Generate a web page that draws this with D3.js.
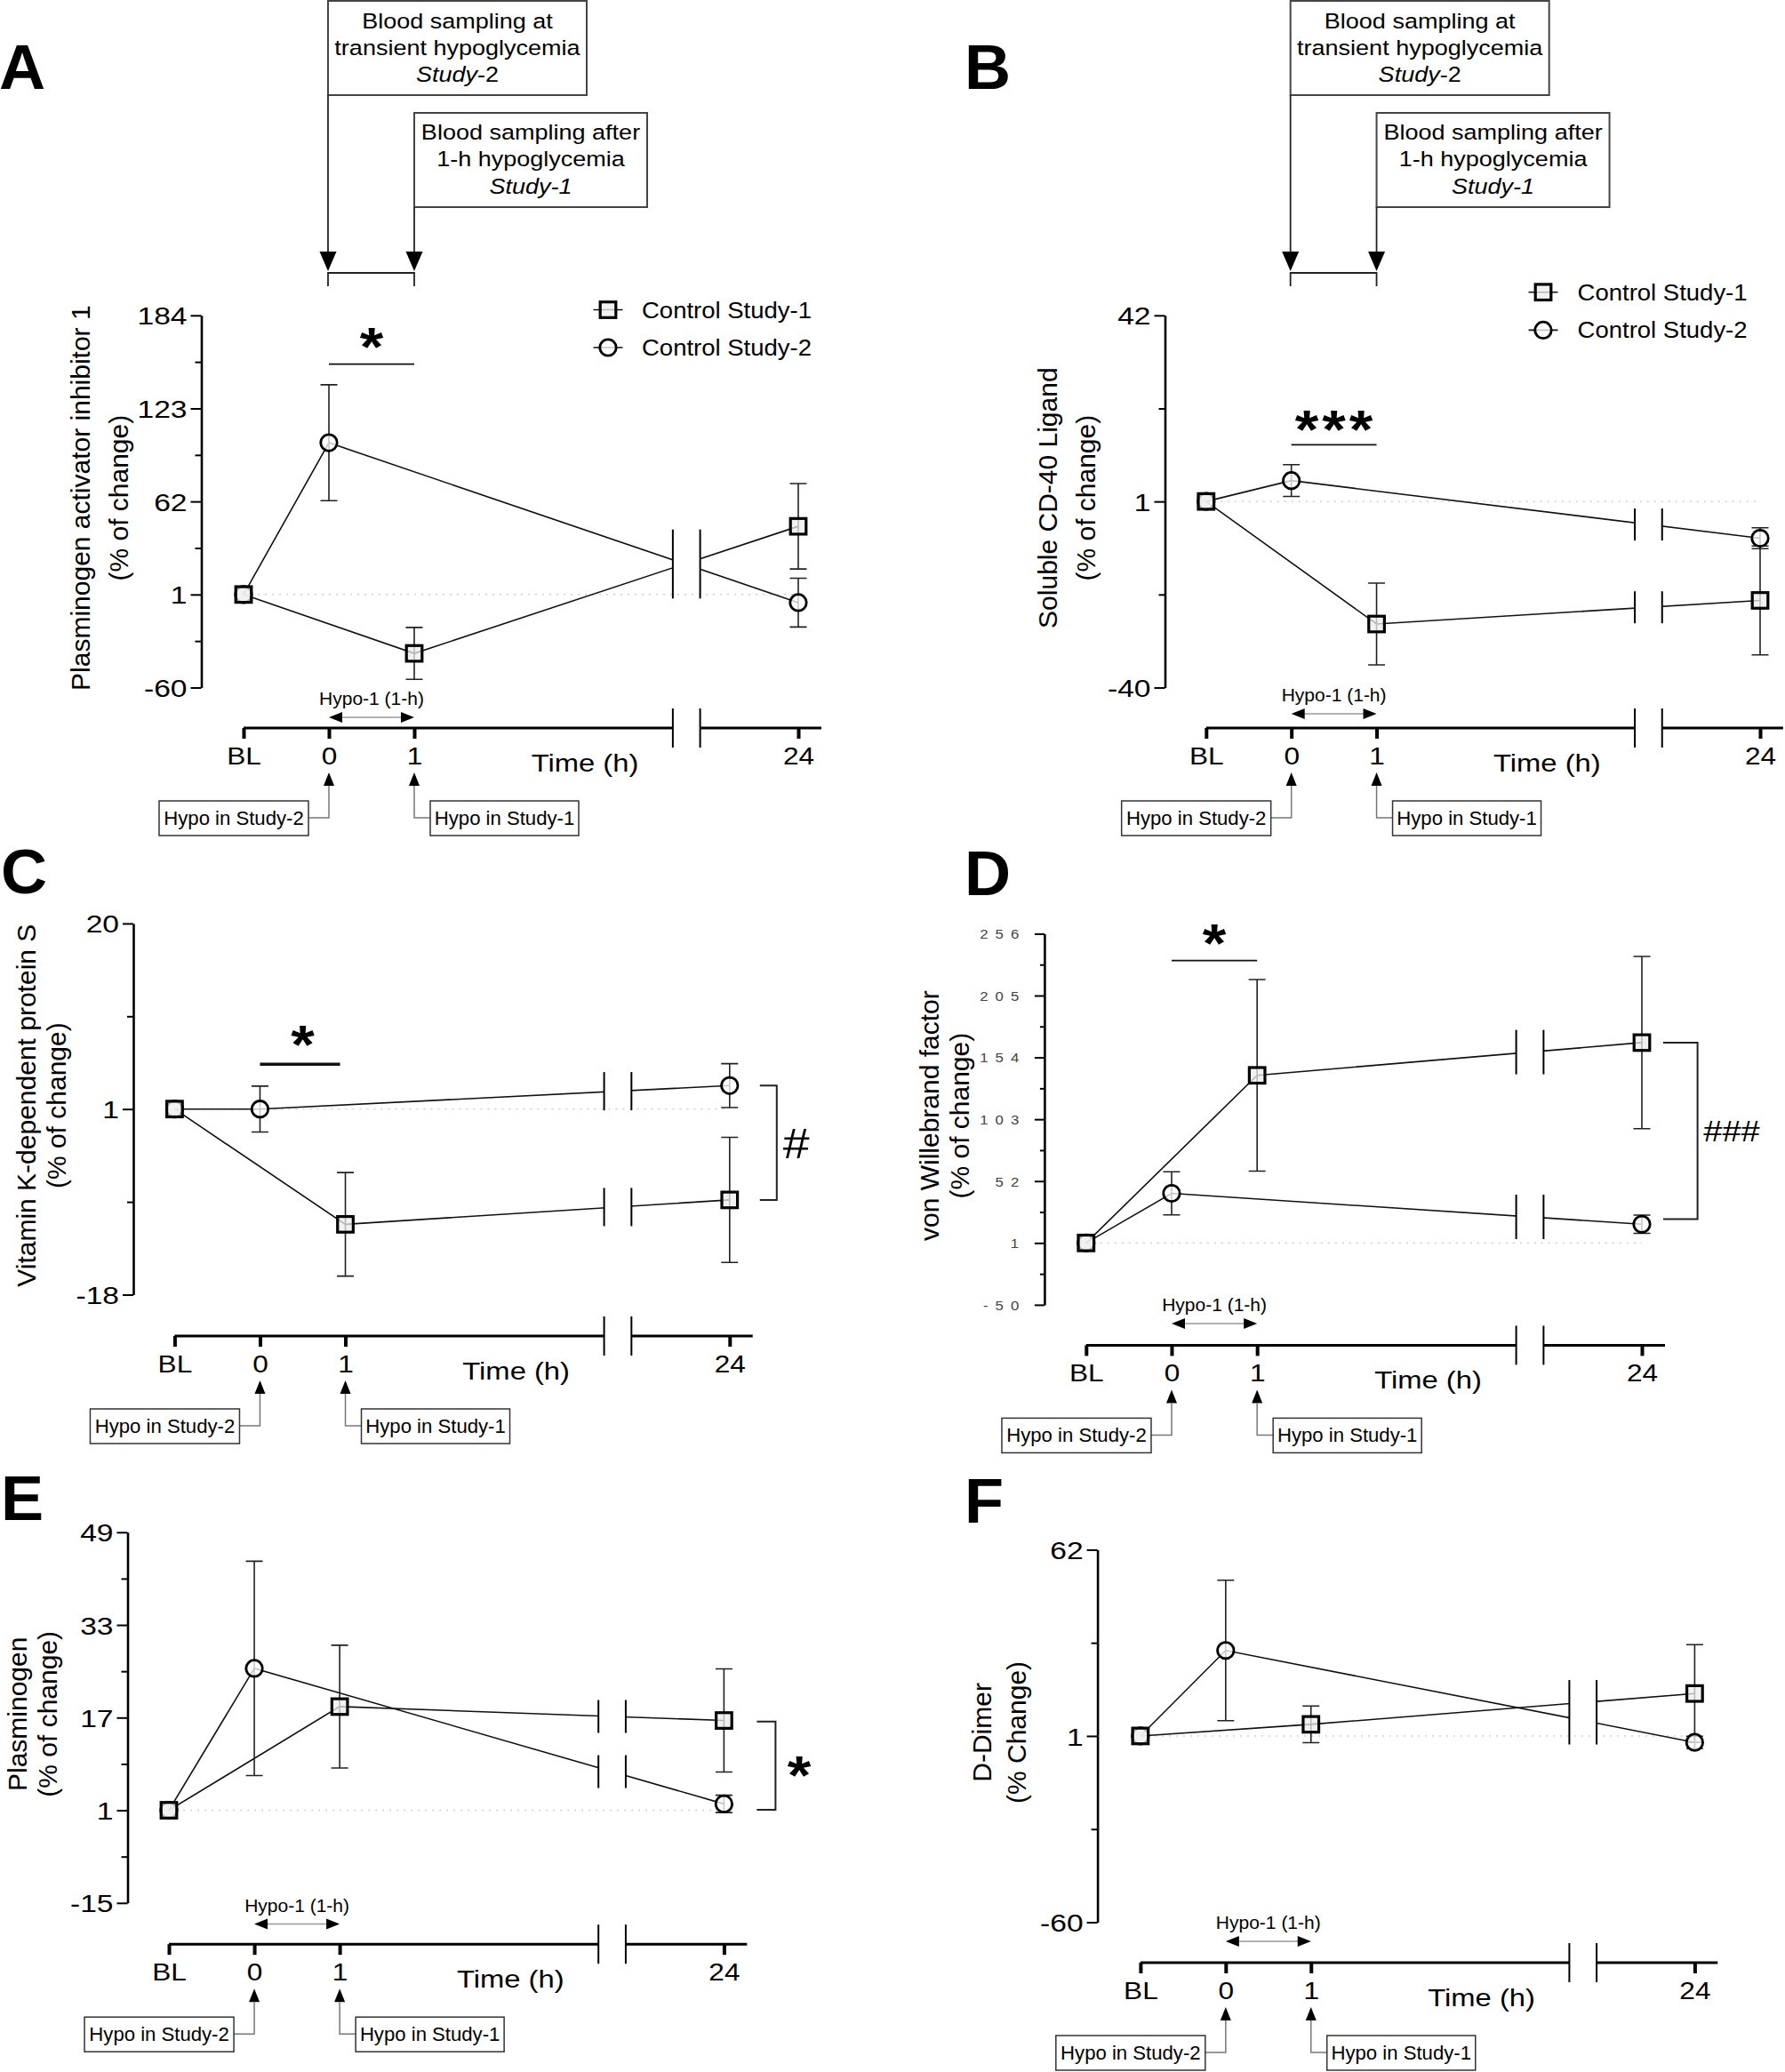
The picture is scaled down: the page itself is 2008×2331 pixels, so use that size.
<!DOCTYPE html>
<html><head><meta charset="utf-8">
<script src="https://cdn.jsdelivr.net/npm/d3@7"></script>
<style>
html,body{margin:0;padding:0;background:#fff;}
svg{display:block;}
text{font-family:"Liberation Sans",Arial,Helvetica,sans-serif;}
</style></head><body>
<svg id="fig" width="2008" height="2331"></svg>
<script>
// ---------------- data ----------------
const timeLabels = ["BL", "0", "1", "24"];
const timeIndex = [0, 1, 2, 6.5];
const study1Times = ["BL", "1", "24"];
const study2Times = ["BL", "0", "24"];
const seriesNames = ["Control Study-1", "Control Study-2"];

const ticksA = [-60, 1, 62, 123, 184];
const paiStudy1 = [1, -37.6, 45.7];
const paiStudy1Sem = [0, 17, 28];
const paiStudy2 = [1, 100.5, -4.3];
const paiStudy2Sem = [0, 38, 16];

const ticksB = [-40, 1, 42];
const cd40Study1 = [1, -26, -20.8];
const cd40Study1Sem = [0, 9, 12];
const cd40Study2 = [1, 5.6, -7.1];
const cd40Study2Sem = [0, 3.5, 2.3];

const ticksC = [-18, 1, 20];
const protSStudy1 = [1, -10.8, -8.3];
const protSStudy1Sem = [0, 5.3, 6.4];
const protSStudy2 = [1, 1, 3.4];
const protSStudy2Sem = [0, 2.35, 2.25];

const ticksD = [-50, 1, 52, 103, 154, 205, 256];
const vwfStudy1 = [1, 139.2, 166.2];
const vwfStudy1Sem = [0, 79, 71];
const vwfStudy2 = [1, 41.9, 16.4];
const vwfStudy2Sem = [0, 17.8, 7.5];

const ticksE = [-15, 1, 17, 33, 49];
const plgStudy1 = [1, 18.9, 16.5];
const plgStudy1Sem = [0, 10.6, 8.9];
const plgStudy2 = [1, 25.5, 2.1];
const plgStudy2Sem = [0, 18.5, 1.5];

const ticksF = [-60, 1, 62];
const ddStudy1 = [1, 4.8, 14.9];
const ddStudy1Sem = [0, 6, 16];
const ddStudy2 = [1, 29, -1.1];
const ddStudy2Sem = [0, 23, 2];

// significance levels (y value of the bar) and bracket extents
const sigBarA = 152, sigBarB = 13.5, sigBarC = 5.6, sigBarD = 233.9;
const bracketC = [3.4, -8.3];
const bracketD = [166.2, 20.6];
const bracketE = [16.3, 1.1];

// ---------------- layout ----------------
const S = 1.17;            // horizontal stretch of the original lettering
const BREAK = [5.03, 5.35];
const AXIS_END = 6.77;

const panels = [
  {letter:"A", lx:-1, ly:100, yAxisX:226.5, xBL:274, x24:898, yTop:354.8, yBot:773.5, axisY:819,
   ticks:ticksA, s1:paiStudy1, s1e:paiStudy1Sem, s2:paiStudy2, s2e:paiStudy2Sem,
   yLabel:["Plasminogen activator inhibitor 1","(% of change)"], yLabelX:[92.5,136],
   hypoArrow:-12, legend:{mx:684, tx:722, ys:[348.5,391]}, sampling:true,
   sig:{level:sigBarA, n:1, off:31, thick:false}, markHalf:33},
  {letter:"B", lx:1085, ly:100, yAxisX:1310.5, xBL:1356.8, x24:1980, yTop:354.8, yBot:773.5, axisY:819,
   ticks:ticksB, s1:cd40Study1, s1e:cd40Study1Sem, s2:cd40Study2, s2e:cd40Study2Sem,
   yLabel:["Soluble CD-40 Ligand","(% of change)"], yLabelX:[1181,1224],
   hypoArrow:-16, legend:{mx:1736, tx:1774.6, ys:[328.7,371.4]}, sampling:true,
   sig:{level:sigBarB, n:3, off:28, thick:false}, markHalf:18},
  {letter:"C", lx:1, ly:1005, yAxisX:150, xBL:196.4, x24:820.8, yTop:1038.9, yBot:1456.5, axisY:1503,
   ticks:ticksC, s1:protSStudy1, s1e:protSStudy1Sem, s2:protSStudy2, s2e:protSStudy2Sem,
   yLabel:["Vitamin K-dependent protein S","(% of change)"], yLabelX:[32,66],
   hypoArrow:null, sig:{level:sigBarC, n:1, off:33, thick:true},
   bracket:{vals:bracketC, x0:34, x1:53, label:"#", lx:75, size:48, weight:"normal", base:17}, markHalf:21.5},
  {letter:"D", lx:1085, ly:1007, yAxisX:1174.9, xBL:1221.8, x24:1847, yTop:1050.4, yBot:1467.9, axisY:1513.4,
   ticks:ticksD, spaced:true, s1:vwfStudy1, s1e:vwfStudy1Sem, s2:vwfStudy2, s2e:vwfStudy2Sem,
   yLabel:["von Willebrand factor","(% of change)"], yLabelX:[1048,1082],
   hypoArrow:-24.4, sig:{level:sigBarD, n:1, off:30.4, thick:false},
   bracket:{vals:bracketD, x0:24, x1:62.6, label:"###", lx:101, size:34, weight:"normal", base:12}, markHalf:25},
  {letter:"E", lx:1, ly:1710, yAxisX:143.5, xBL:190, x24:814.4, yTop:1723.8, yBot:2140.8, axisY:2187.2,
   ticks:ticksE, s1:plgStudy1, s1e:plgStudy1Sem, s2:plgStudy2, s2e:plgStudy2Sem,
   yLabel:["Plasminogen","(% of change)"], yLabelX:[22,56],
   hypoArrow:-22.6, sig:null,
   bracket:{vals:bracketE, x0:37, x1:58, label:"*", lx:84.6, star:true}, markHalf:18.5},
  {letter:"F", lx:1085, ly:1713, yAxisX:1234.6, xBL:1282.9, x24:1906.4, yTop:1743.4, yBot:2162.5, axisY:2208,
   ticks:ticksF, s1:ddStudy1, s1e:ddStudy1Sem, s2:ddStudy2, s2e:ddStudy2Sem,
   yLabel:["D-Dimer","(% Change)"], yLabelX:[1107,1146],
   hypoArrow:-24, sig:null, markHalf:24}
];

const svg = d3.select("#fig");
svg.append("rect").attr("width", 2008).attr("height", 2331).attr("fill", "#fff");

function stext(parent, x, y, str, o = {}) {
  const sx = o.sx ?? S;
  let tr = `translate(${x},${y}) scale(${sx},1)`;
  if (o.rotate) tr += ` rotate(${o.rotate})`;
  const t = parent.append("text").attr("transform", tr)
    .attr("text-anchor", o.anchor || "start")
    .style("font-size", (o.size || 25) + "px")
    .style("font-weight", o.weight || "normal")
    .attr("fill", o.fill || "#000");
  if (o.dy) t.attr("dy", o.dy);
  if (Array.isArray(str)) {
    str.forEach(s => t.append("tspan").style("font-style", s.i ? "italic" : "normal").text(s.t));
  } else t.text(str);
  return t;
}

function marker(g, cx, cy, shape) {
  if (shape === "square") {
    g.append("rect").attr("x", cx - 8.8).attr("y", cy - 8.8).attr("width", 17.6).attr("height", 17.6)
      .attr("fill", "rgba(236,236,236,0.75)").attr("stroke", "#000").attr("stroke-width", 3.2);
  } else {
    g.append("circle").attr("cx", cx).attr("cy", cy).attr("r", 9.2)
      .attr("fill", "rgba(255,255,255,0.75)").attr("stroke", "#000").attr("stroke-width", 2.8);
  }
}

function star(g, cx, cy) {
  stext(g, cx, cy + 32, "*", {size:62, weight:"bold", anchor:"middle", sx:1.1});
}

function vline(g, x, y0, y1, w = 2, c = "#000") {
  g.append("line").attr("x1", x).attr("x2", x).attr("y1", y0).attr("y2", y1)
    .attr("stroke", c).attr("stroke-width", w);
}

function drawPanel(p) {
  const g = svg.append("g");
  const x = d3.scaleLinear().domain([0, 6.5]).range([p.xBL, p.x24]);
  const y = d3.scaleLinear().domain(d3.extent(p.ticks)).range([p.yBot, p.yTop]);
  const xi = t => x(timeIndex[timeLabels.indexOf(t)]);
  const bL = x(BREAK[0]), bR = x(BREAK[1]);

  // panel letter
  stext(g, p.lx, p.ly, p.letter, {size:70, weight:"bold", sx:1.03});

  // y axis: minor then major ticks
  const tickFs = p.spaced ? 15 : 28;
  const majorLen = p.spaced ? 11 : 12, minorLen = p.spaced ? 5 : 7;
  const tickGap = p.spaced ? 16 : 4;
  const minor = d3.pairs(p.ticks).map(([a, b]) => (a + b) / 2);
  g.append("g").attr("transform", `translate(${p.yAxisX},0)`)
    .call(d3.axisLeft(y).tickValues(minor).tickSize(minorLen).tickSizeOuter(0).tickFormat(""))
    .call(a => a.select(".domain").remove())
    .call(a => a.selectAll("line").attr("stroke-width", 2));
  const ga = g.append("g").attr("transform", `translate(${p.yAxisX},0)`)
    .call(d3.axisLeft(y).tickValues(p.ticks).tickSize(majorLen).tickSizeOuter(0)
      .tickFormat(p.spaced ? d => String(d).split("").join(" ") : d => String(d)));
  ga.attr("font-family", null).attr("font-size", null);
  ga.select(".domain").attr("stroke-width", 2.6);
  ga.selectAll(".tick line").attr("stroke-width", 2);
  ga.selectAll(".tick text").attr("x", null).attr("dy", null)
    .attr("fill", p.spaced ? "#444" : "#000")
    .attr("transform", `translate(${-(majorLen + tickGap)},${0.36 * tickFs}) scale(${p.spaced ? 1.12 : 1.2},1)`)
    .style("letter-spacing", p.spaced ? "1.5px" : null)
    .style("font-size", tickFs + "px");

  // y label
  const cyl = (p.yTop + p.yBot) / 2 - 4;
  p.yLabel.forEach((s, i) => stext(g, p.yLabelX[i], cyl, s, {size:30, anchor:"middle", rotate:-90, dy:"0.27em", sx:1.0}));

  // time axis
  const gx = g.append("g").attr("transform", `translate(0,${p.axisY})`)
    .call(d3.axisBottom(x).tickValues(timeIndex).tickSize(12).tickSizeOuter(0)
      .tickFormat((d, i) => timeLabels[i]));
  gx.attr("font-family", null).attr("font-size", null);
  gx.select(".domain").remove();
  gx.selectAll(".tick line").attr("stroke-width", 4);
  gx.selectAll(".tick text").attr("y", null).attr("dy", null).attr("fill", "#000")
    .attr("transform", `translate(0,41) scale(${S},1)`).style("font-size", "27px");
  g.append("line").attr("x1", x(0)).attr("x2", bL).attr("y1", p.axisY).attr("y2", p.axisY)
    .attr("stroke", "#000").attr("stroke-width", 3);
  g.append("line").attr("x1", bR).attr("x2", x(AXIS_END)).attr("y1", p.axisY).attr("y2", p.axisY)
    .attr("stroke", "#000").attr("stroke-width", 3);
  [bL, bR].forEach(bx => vline(g, bx, p.axisY - 22, p.axisY + 22));
  stext(g, x(4), p.axisY + 49, "Time (h)", {size:28, anchor:"middle"});

  // hypo-1 double arrow
  const a0 = xi("0"), a1 = xi("1");
  if (p.hypoArrow != null) {
    const ay = p.axisY + p.hypoArrow;
    g.append("line").attr("x1", a0 + 12).attr("x2", a1 - 12).attr("y1", ay).attr("y2", ay)
      .attr("stroke", "#999").attr("stroke-width", 1.5);
    g.append("path").attr("d", `M${a0},${ay}L${a0 + 15},${ay - 6}L${a0 + 15},${ay + 6}Z M${a1},${ay}L${a1 - 15},${ay - 6}L${a1 - 15},${ay + 6}Z`)
      .attr("fill", "#000");
    stext(g, (a0 + a1) / 2, ay - 14, "Hypo-1 (1-h)", {size:21, anchor:"middle", sx:1.0});
  }

  // hypo markers under the time axis
  const ty = p.axisY;
  [[a0, "Hypo in Study-2", -191, 168], [a1, "Hypo in Study-1", 18, 167]].forEach(([ax, label, off, w]) => {
    g.append("path").attr("d", `M${ax},${ty + 50}L${ax - 6},${ty + 65}L${ax + 6},${ty + 65}Z`).attr("fill", "#000");
    const edge = off < 0 ? ax + off + w : ax + off;
    g.append("path").attr("d", `M${ax},${ty + 65}V${ty + 101}H${edge}`)
      .attr("fill", "none").attr("stroke", "#777").attr("stroke-width", 1.5);
    g.append("rect").attr("x", ax + off).attr("y", ty + 82).attr("width", w).attr("height", 39)
      .attr("fill", "#fff").attr("stroke", "#333").attr("stroke-width", 1.5);
    stext(g, ax + off + w / 2, ty + 109, label, {size:21.5, anchor:"middle", sx:1.03});
  });

  // dotted reference line at 1
  g.append("line").attr("x1", x(0)).attr("x2", x(6.5)).attr("y1", y(1)).attr("y2", y(1))
    .attr("stroke", "#cfcfcf").attr("stroke-width", 1.5).attr("stroke-dasharray", "2,6");

  // series
  const series = [
    {times:study2Times, v:p.s2, e:p.s2e, shape:"circle"},
    {times:study1Times, v:p.s1, e:p.s1e, shape:"square"}
  ];
  const clipId = "clip" + p.letter;
  const cp = g.append("clipPath").attr("id", clipId);
  cp.append("rect").attr("x", 0).attr("y", 0).attr("width", bL).attr("height", 2331);
  cp.append("rect").attr("x", bR).attr("y", 0).attr("width", 2008 - bR).attr("height", 2331);

  const line = d3.line().x(d => xi(d.t)).y(d => y(d.v));
  series.forEach(s => {
    s.pts = s.times.map((t, i) => ({t, v:s.v[i], e:s.e[i]}));
    g.append("path").attr("d", line(s.pts)).attr("fill", "none").attr("stroke", "#111")
      .attr("stroke-width", 1.6).attr("clip-path", `url(#${clipId})`);
  });

  // break marks on the data lines
  const yAt = (pts, px) => {
    for (let i = 0; i < pts.length - 1; i++) {
      const x0 = xi(pts[i].t), x1 = xi(pts[i + 1].t);
      if (px >= x0 && px <= x1) {
        const t = (px - x0) / (x1 - x0);
        return y(pts[i].v) + (y(pts[i + 1].v) - y(pts[i].v)) * t;
      }
    }
    return null;
  };
  const ysL = series.map(s => yAt(s.pts, bL)), ysR = series.map(s => yAt(s.pts, bR));
  if (Math.abs(ysL[0] - ysL[1]) < 40) {
    const all = ysL.concat(ysR);
    const y0 = d3.min(all) - p.markHalf, y1 = d3.max(all) + p.markHalf;
    [bL, bR].forEach(bx => vline(g, bx, y0, y1));
  } else {
    series.forEach((s, k) => {
      const c = (ysL[k] + ysR[k]) / 2;
      [bL, bR].forEach(bx => vline(g, bx, c - p.markHalf, c + p.markHalf));
    });
  }

  // error bars
  series.forEach(s => s.pts.forEach(d => {
    if (d.e > 0) {
      const cx = xi(d.t), yt = y(d.v + d.e), yb = y(d.v - d.e);
      g.append("path").attr("d", `M${cx},${yt}V${yb}M${cx - 9.5},${yt}H${cx + 9.5}M${cx - 9.5},${yb}H${cx + 9.5}`)
        .attr("stroke", "#222").attr("stroke-width", 1.6).attr("fill", "none");
    }
  }));
  // markers
  series.forEach(s => s.pts.forEach(d => marker(g, xi(d.t), y(d.v), s.shape)));

  // legend
  if (p.legend) {
    seriesNames.forEach((name, i) => {
      const ly = p.legend.ys[i], mx = p.legend.mx;
      g.append("line").attr("x1", mx - 16.5).attr("x2", mx + 16.5).attr("y1", ly).attr("y2", ly)
        .attr("stroke", "#111").attr("stroke-width", 1.6);
      marker(g, mx, ly, i === 0 ? "square" : "circle");
      stext(g, p.legend.tx, ly + 9, name, {size:25, sx:1.1});
    });
  }

  // sampling annotation boxes
  if (p.sampling) {
    const x0 = a0 - 1, x1 = a1;
    const box = (bx, by, w, h) => g.append("rect").attr("x", bx).attr("y", by).attr("width", w).attr("height", h)
      .attr("fill", "#fff").attr("stroke", "#444").attr("stroke-width", 2);
    box(x0, 1, 291, 106);
    stext(g, x0 + 145.5, 32, "Blood sampling at", {size:23.5, anchor:"middle", sx:1.15});
    stext(g, x0 + 145.5, 62, "transient hypoglycemia", {size:23.5, anchor:"middle", sx:1.15});
    stext(g, x0 + 145.5, 92, [{t:"Study", i:true}, {t:"-2"}], {size:23.5, anchor:"middle", sx:1.15});
    box(x1, 127, 262, 106);
    stext(g, x1 + 131, 157, "Blood sampling after", {size:23.5, anchor:"middle", sx:1.15});
    stext(g, x1 + 131, 187, "1-h hypoglycemia", {size:23.5, anchor:"middle", sx:1.15});
    stext(g, x1 + 131, 218, [{t:"Study-1", i:true}], {size:23.5, anchor:"middle", sx:1.15});
    [[x0, 107], [x1, 233]].forEach(([ax, top]) => {
      vline(g, ax, top, 284, 1.8, "#222");
      g.append("path").attr("d", `M${ax},305L${ax - 9.5},283L${ax + 9.5},283Z`).attr("fill", "#000");
    });
    g.append("path").attr("d", `M${x0},322V307H${x1}V322`).attr("fill", "none")
      .attr("stroke", "#222").attr("stroke-width", 1.8);
  }

  // significance bar over 0-1 h
  if (p.sig) {
    const ly = y(p.sig.level);
    g.append("line").attr("x1", a0).attr("x2", a1 - (p.sig.thick ? 6 : 0)).attr("y1", ly).attr("y2", ly)
      .attr("stroke", "#111").attr("stroke-width", p.sig.thick ? 3.5 : 1.8);
    const cx = (a0 + a1) / 2, cy = ly - p.sig.off;
    for (let k = 0; k < p.sig.n; k++) star(g, cx + (k - (p.sig.n - 1) / 2) * 30.5, cy);
  }

  // bracket at 24 h
  if (p.bracket) {
    const b = p.bracket;
    const bx0 = p.x24 + b.x0, bx1 = p.x24 + b.x1;
    const ya = y(b.vals[0]), yb = y(b.vals[1]);
    g.append("path").attr("d", `M${bx0},${ya}H${bx1}V${yb}H${bx0}`).attr("fill", "none")
      .attr("stroke", "#222").attr("stroke-width", 2);
    const cx = p.x24 + b.lx, cy = (ya + yb) / 2;
    if (b.star) star(g, cx, cy);
    else stext(g, cx, cy + b.base, b.label, {size:b.size, weight:b.weight, anchor:"middle", sx:1.12});
  }
}

panels.forEach(drawPanel);
</script>
</body></html>
